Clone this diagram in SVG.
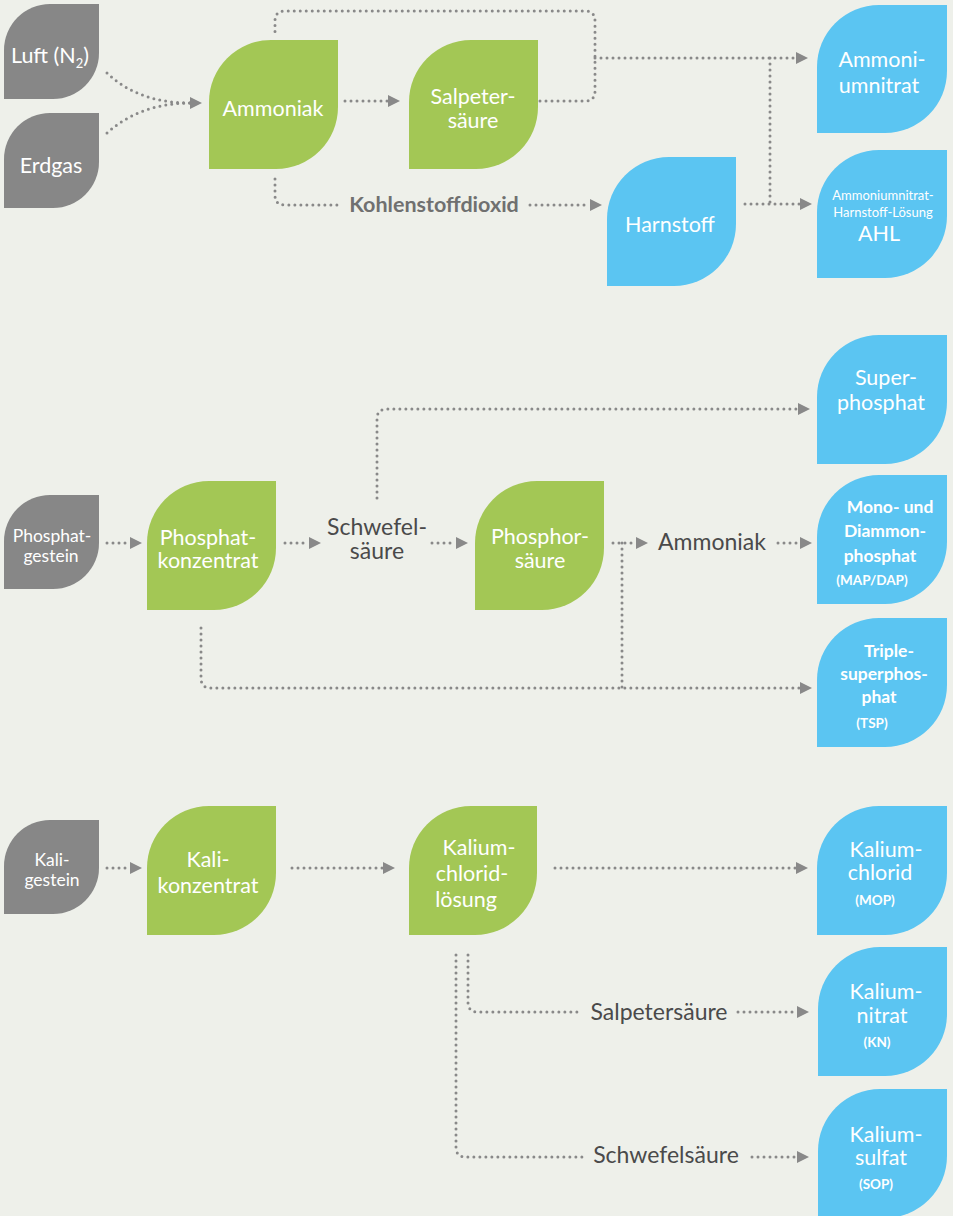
<svg xmlns="http://www.w3.org/2000/svg" width="953" height="1216" viewBox="0 0 953 1216">
<defs>
<style>
.bg{fill:#eef0ea}
.gray{fill:#878787}
.green{fill:#a3c755}
.blue{fill:#5bc5f2}
text{font-family:Lato,"Open Sans","Liberation Sans",sans-serif;text-anchor:middle}
.w{fill:#ffffff;font-size:21.5px}
.ws{fill:#ffffff;font-size:17.5px}
.wb{fill:#ffffff;font-size:17.5px;font-weight:700}
.wxs{fill:#ffffff;font-size:13.5px;font-weight:700}
.wt{fill:#ffffff;font-size:13px}
.lbl{fill:#4a4a4a;font-size:23px}
.lblb{fill:#707070;font-size:21.5px;font-weight:700}
.c{fill:none;stroke:#898989;stroke-width:3;stroke-linecap:round;stroke-dasharray:0 6}
</style>
<marker id="ah" markerUnits="userSpaceOnUse" markerWidth="12" markerHeight="12" refX="0" refY="6" orient="auto">
<path d="M0,0 L12,6 L0,12 Z" fill="#898989"/>
</marker>
</defs>
<rect class="bg" x="0" y="0" width="953" height="1216"/>

<g id="connectors">
<path class="c" d="M107,73 C130,95 160,103 190,103" marker-end="url(#ah)"/>
<path class="c" d="M107,133 C130,112 160,103 190,103"/>
<path class="c" d="M345,101 H388" marker-end="url(#ah)"/>
<path class="c" d="M540,101 H585 Q595,101 595,91 V21 Q595,11 585,11 H285 Q275,11 275,21 V33"/>
<path class="c" d="M595,58 H796" marker-end="url(#ah)"/>
<path class="c" d="M770,58 V204"/>
<path class="c" d="M275,179 V195 Q275,205 285,205 H340"/>
<path class="c" d="M530,205 H590" marker-end="url(#ah)"/>
<path class="c" d="M745,204 H800" marker-end="url(#ah)"/>

<path class="c" d="M107,543 H130" marker-end="url(#ah)"/>
<path class="c" d="M285,543 H309" marker-end="url(#ah)"/>
<path class="c" d="M432,543 H456" marker-end="url(#ah)"/>
<path class="c" d="M377,498 V419 Q377,409 387,409 H798" marker-end="url(#ah)"/>
<path class="c" d="M613,543 H636" marker-end="url(#ah)"/>
<path class="c" d="M778,543 H800" marker-end="url(#ah)"/>
<path class="c" d="M622,543 V688"/>
<path class="c" d="M201,628 V678 Q201,688 211,688 H800" marker-end="url(#ah)"/>

<path class="c" d="M107,868 H130" marker-end="url(#ah)"/>
<path class="c" d="M292,868 H383" marker-end="url(#ah)"/>
<path class="c" d="M555,868 H796" marker-end="url(#ah)"/>
<path class="c" d="M468,955 V1002 Q468,1012 478,1012 H582"/>
<path class="c" d="M738,1012 H797" marker-end="url(#ah)"/>
<path class="c" d="M456,955 V1147 Q456,1157 466,1157 H582"/>
<path class="c" d="M752,1157 H797" marker-end="url(#ah)"/>
</g>

<g id="luft"><path class="gray" d="M4,99 V50 A46,46 0 0 1 50,4 H99 V53 A46,46 0 0 1 53,99 Z"/>
<text class="w" x="50" y="63">Luft (N<tspan font-size="13" dy="5">2</tspan><tspan dy="-5">)</tspan></text></g>
<g id="erdgas"><path class="gray" d="M4,208 V159 A46,46 0 0 1 50,113 H99 V162 A46,46 0 0 1 53,208 Z"/>
<text class="w" x="51" y="173">Erdgas</text></g>
<g id="ammoniak"><path class="green" d="M209,169 V102 A62,62 0 0 1 271,40 H338 V107 A62,62 0 0 1 276,169 Z"/>
<text class="w" x="273" y="116">Ammoniak</text></g>
<g id="salpetersaeure"><path class="green" d="M409,169 V102 A62,62 0 0 1 471,40 H538 V107 A62,62 0 0 1 476,169 Z"/>
<text class="w" x="473" y="104">Salpeter-</text><text class="w" x="473" y="128">säure</text></g>
<g id="harnstoff"><path class="blue" d="M607,286 V219 A62,62 0 0 1 669,157 H736 V224 A62,62 0 0 1 674,286 Z"/>
<text class="w" x="670" y="232">Harnstoff</text></g>
<g id="ammoniumnitrat"><path class="blue" d="M817,133 V67 A62,62 0 0 1 879,5 H947 V71 A62,62 0 0 1 885,133 Z"/>
<text class="w" x="882" y="67">Ammoni-</text><text class="w" x="879" y="93">umnitrat</text></g>
<g id="ahl"><path class="blue" d="M817,278 V212 A62,62 0 0 1 879,150 H947 V216 A62,62 0 0 1 885,278 Z"/>
<text class="wt" x="883" y="200">Ammoniumnitrat-</text><text class="wt" x="883" y="217">Harnstoff-Lösung</text><text class="w" x="879" y="241">AHL</text></g>
<text class="lblb" x="434" y="212">Kohlenstoffdioxid</text>

<g id="phosphatgestein"><path class="gray" d="M4,589 V541 A46,46 0 0 1 50,495 H99 V543 A46,46 0 0 1 53,589 Z"/>
<text class="ws" x="52" y="542">Phosphat-</text><text class="ws" x="51" y="562">gestein</text></g>
<g id="phosphatkonzentrat"><path class="green" d="M147,610 V543 A62,62 0 0 1 209,481 H276 V548 A62,62 0 0 1 214,610 Z"/>
<text class="w" x="208" y="545">Phosphat-</text><text class="w" x="208" y="568">konzentrat</text></g>
<g id="schwefelsaeure1"><text class="lbl" x="377" y="535">Schwefel-</text><text class="lbl" x="377" y="559">säure</text></g>
<g id="phosphorsaeure"><path class="green" d="M475,610 V543 A62,62 0 0 1 537,481 H604 V548 A62,62 0 0 1 542,610 Z"/>
<text class="w" x="540" y="544">Phosphor-</text><text class="w" x="540" y="568">säure</text></g>
<g id="ammoniak2"><text class="lbl" x="712" y="550">Ammoniak</text></g>
<g id="superphosphat"><path class="blue" d="M817,464 V397 A62,62 0 0 1 879,335 H947 V402 A62,62 0 0 1 885,464 Z"/>
<text class="w" x="886" y="385">Super-</text><text class="w" x="881" y="410">phosphat</text></g>
<g id="mapdap"><path class="blue" d="M817,604 V537 A62,62 0 0 1 879,475 H947 V542 A62,62 0 0 1 885,604 Z"/>
<text class="wb" x="890" y="513">Mono- und</text><text class="wb" x="885" y="537">Diammon-</text><text class="wb" x="880" y="562">phosphat</text><text class="wxs" x="872" y="585">(MAP/DAP)</text></g>
<g id="tsp"><path class="blue" d="M817,747 V680 A62,62 0 0 1 879,618 H947 V685 A62,62 0 0 1 885,747 Z"/>
<text class="wb" x="889" y="657">Triple-</text><text class="wb" x="884" y="680">superphos-</text><text class="wb" x="879" y="703">phat</text><text class="wxs" x="872" y="728">(TSP)</text></g>

<g id="kaligestein"><path class="gray" d="M4,914 V866 A46,46 0 0 1 50,820 H99 V868 A46,46 0 0 1 53,914 Z"/>
<text class="ws" x="52" y="866">Kali-</text><text class="ws" x="52" y="886">gestein</text></g>
<g id="kalikonzentrat"><path class="green" d="M147,935 V868 A62,62 0 0 1 209,806 H276 V873 A62,62 0 0 1 214,935 Z"/>
<text class="w" x="208" y="867">Kali-</text><text class="w" x="208" y="893">konzentrat</text></g>
<g id="kaliumchloridloesung"><path class="green" d="M409,935 V868 A62,62 0 0 1 471,806 H537 V873 A62,62 0 0 1 475,935 Z"/>
<text class="w" x="479" y="855">Kalium-</text><text class="w" x="472" y="881">chlorid-</text><text class="w" x="466" y="907">lösung</text></g>
<g id="kaliumchlorid"><path class="blue" d="M817,935 V868 A62,62 0 0 1 879,806 H947 V873 A62,62 0 0 1 885,935 Z"/>
<text class="w" x="886" y="857">Kalium-</text><text class="w" x="880" y="880">chlorid</text><text class="wxs" x="875" y="905">(MOP)</text></g>
<g id="salpetersaeure2"><text class="lbl" x="659" y="1020">Salpetersäure</text></g>
<g id="kaliumnitrat"><path class="blue" d="M818,1076 V1009 A62,62 0 0 1 880,947 H947 V1014 A62,62 0 0 1 885,1076 Z"/>
<text class="w" x="886" y="999">Kalium-</text><text class="w" x="882" y="1023">nitrat</text><text class="wxs" x="877" y="1047">(KN)</text></g>
<g id="schwefelsaeure2"><text class="lbl" x="666" y="1163">Schwefelsäure</text></g>
<g id="kaliumsulfat"><path class="blue" d="M818,1218 V1151 A62,62 0 0 1 880,1089 H947 V1156 A62,62 0 0 1 885,1218 Z"/>
<text class="w" x="886" y="1142">Kalium-</text><text class="w" x="881" y="1165">sulfat</text><text class="wxs" x="876" y="1189">(SOP)</text></g>
</svg>
